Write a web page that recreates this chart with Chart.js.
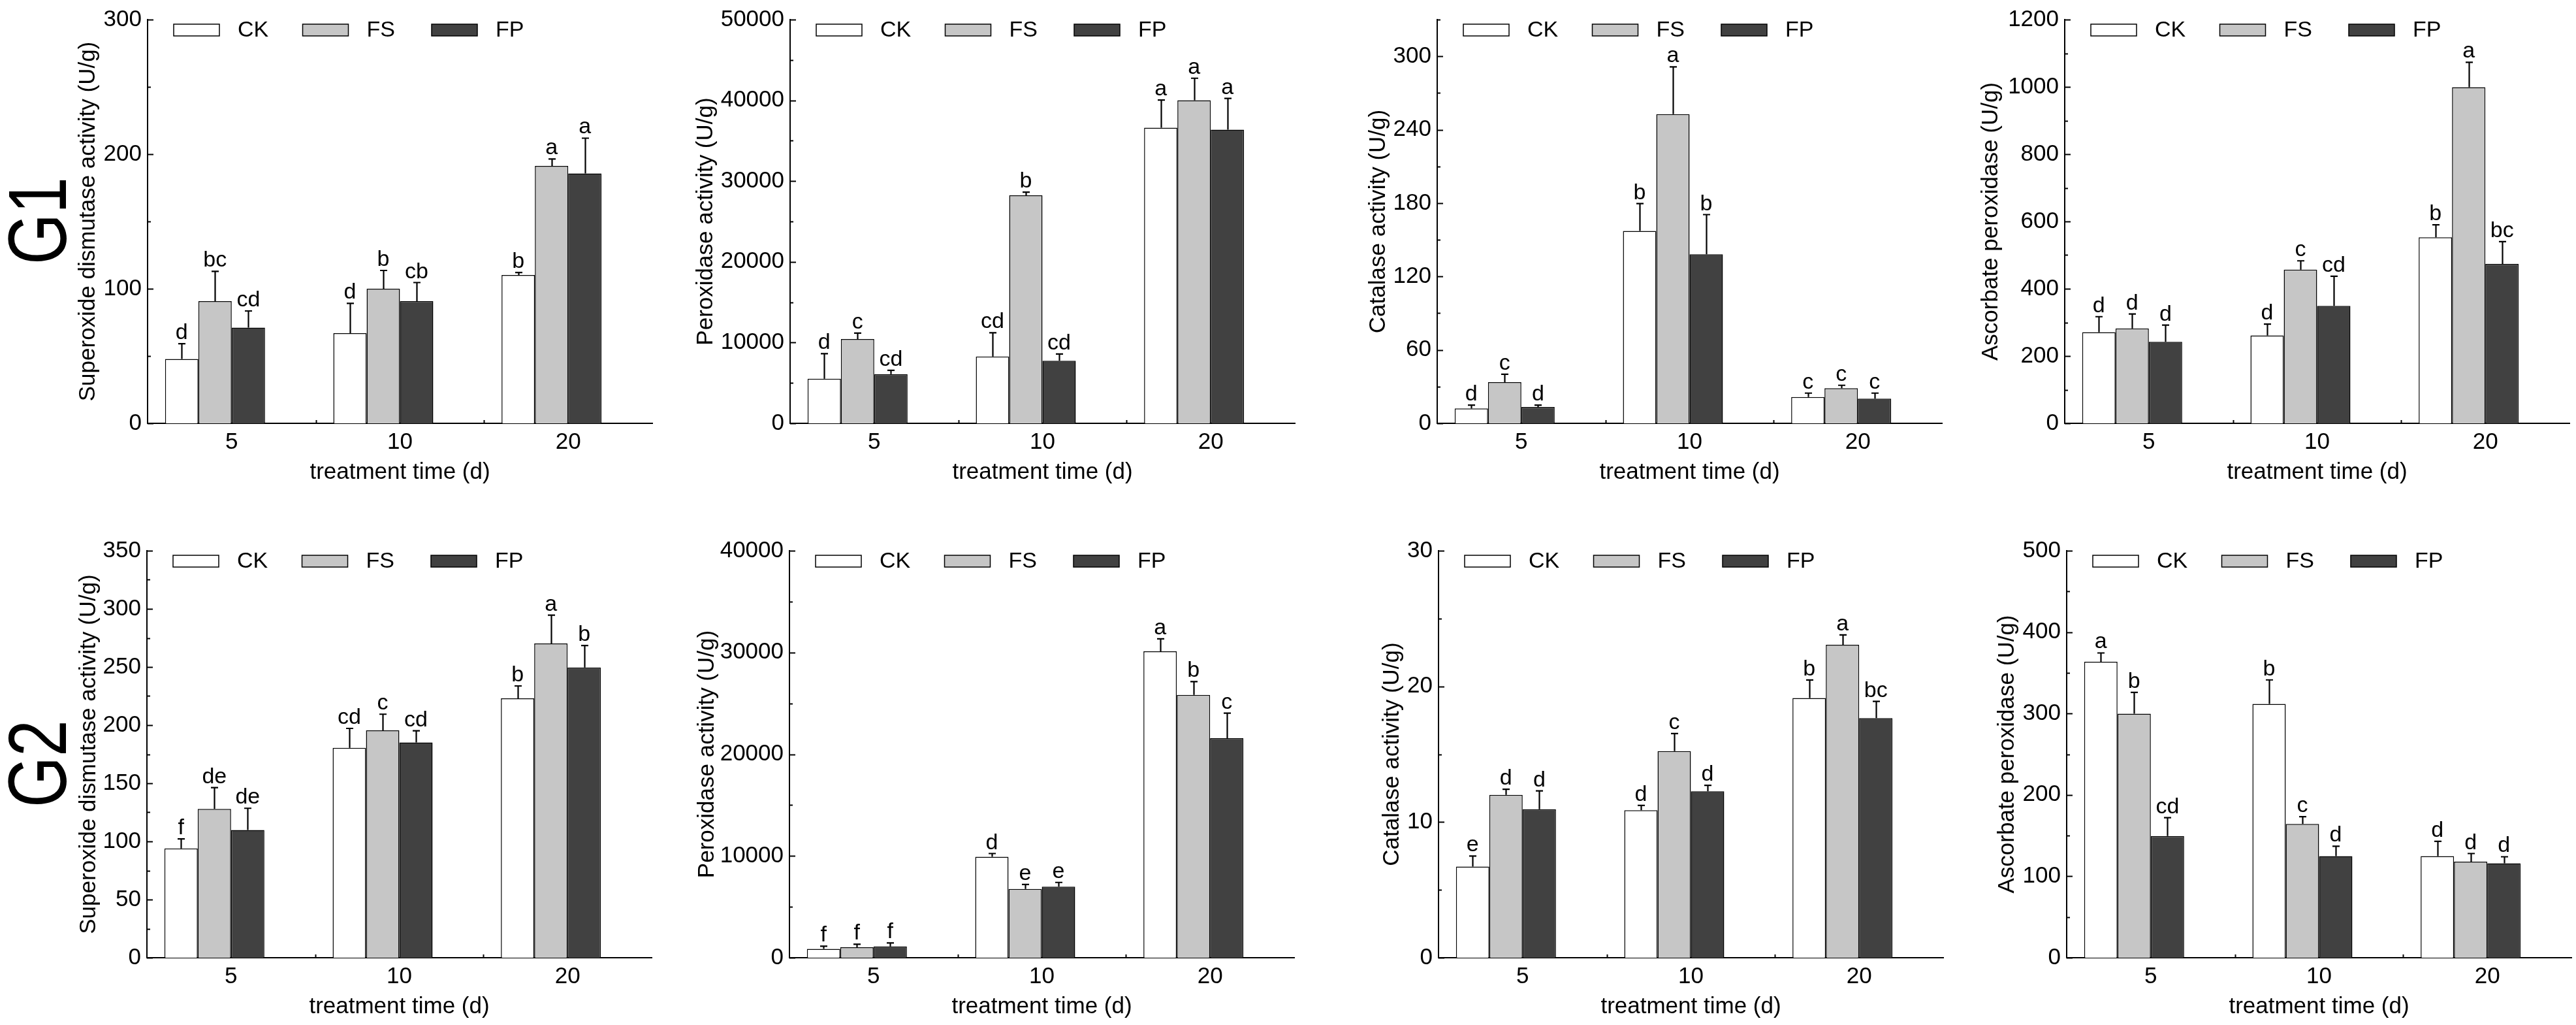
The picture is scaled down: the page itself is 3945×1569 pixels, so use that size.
<!DOCTYPE html>
<html lang="en">
<head>
    <meta charset="UTF-8">
    <title>Antioxidant enzyme activity G1 / G2</title>
    <script src="https://cdn.jsdelivr.net/npm/chart.js"></script>
    <style>
        body {
            margin: 0;
            width: 3945px;
            height: 1569px;
            background: #ffffff;
            position: relative;
            overflow: hidden;
            font-family: "Liberation Sans", Arial, sans-serif;
        }
        .panel {
            position: absolute;
        }
        .group-label {
            position: absolute;
            font-size: 127px;
            line-height: 1;
            color: #000;
            white-space: nowrap;
            transform: translate(-50%, -50%) rotate(-90deg) scaleX(0.79);
        }
    </style>
</head>
<body>
    <div class="group-label" style="left:57px; top:338px;">G1</div>
    <div class="group-label" style="left:57px; top:1169px;">G2</div>

    <script>
        // categories and series
        const days = ['5', '10', '20'];
        const treatments = ['CK', 'FS', 'FP'];

        // each panel: [CK, FS, FP] x [5 d, 10 d, 20 d]
        const g1SodMean = [[47.8, 67.0, 110.2], [90.8, 100.0, 191.3], [71.1, 90.8, 185.7]];
        const g1SodErr = [[11.4, 22.1, 1.9], [22.1, 13.6, 5.1], [12.4, 13.8, 26.2]];
        const g1SodSig = [['d', 'd', 'b'], ['bc', 'b', 'a'], ['cd', 'cb', 'a']];

        const g1PodMean = [[5520, 8270, 36610], [10440, 28230, 40000], [6090, 7740, 36370]];
        const g1PodErr = [[3110, 2940, 3430], [730, 400, 2740], [480, 850, 3870]];
        const g1PodSig = [['d', 'cd', 'a'], ['c', 'b', 'a'], ['cd', 'cd', 'a']];

        const g1CatMean = [[12.2, 157.3, 21.5], [33.7, 252.7, 28.7], [13.3, 138.2, 20.2]];
        const g1CatErr = [[2.7, 22.3, 3.2], [6.4, 38.6, 2.4], [1.6, 32.4, 4.5]];
        const g1CatSig = [['d', 'b', 'c'], ['c', 'a', 'c'], ['d', 'b', 'c']];

        const g1ApxMean = [[271, 261, 553], [282, 457, 999], [242, 349, 474]];
        const g1ApxErr = [[46, 34, 37], [43, 26, 74], [50, 88, 66]];
        const g1ApxSig = [['d', 'd', 'b'], ['d', 'c', 'a'], ['d', 'cd', 'bc']];

        const g2SodMean = [[93.9, 180.5, 223.0], [127.9, 195.5, 270.2], [109.8, 185.1, 249.6]];
        const g2SodErr = [[8.3, 16.7, 10.7], [18.4, 13.9, 24.4], [18.7, 10.1, 18.9]];
        const g2SodSig = [['f', 'cd', 'b'], ['de', 'c', 'a'], ['de', 'cd', 'b']];

        const g2PodMean = [[870, 9920, 30110], [1030, 6750, 25820], [1100, 6980, 21580]];
        const g2PodErr = [[260, 320, 1230], [290, 450, 1320], [350, 420, 2460]];
        const g2PodSig = [['f', 'd', 'a'], ['f', 'e', 'b'], ['f', 'e', 'c']];

        const g2CatMean = [[6.72, 10.87, 19.14], [12.0, 15.23, 23.07], [10.94, 12.27, 17.66]];
        const g2CatErr = [[0.77, 0.36, 1.33], [0.42, 1.29, 0.72], [1.36, 0.44, 1.23]];
        const g2CatSig = [['e', 'd', 'b'], ['d', 'c', 'a'], ['d', 'd', 'bc']];

        const g2ApxMean = [[363.5, 311.8, 124.8], [299.7, 164.4, 117.9], [149.4, 124.8, 115.9]];
        const g2ApxErr = [[10.9, 29.5, 18.2], [26.2, 8.9, 10.1], [22.7, 12.1, 8.1]];
        const g2ApxSig = [['a', 'b', 'd'], ['b', 'c', 'd'], ['cd', 'd', 'd']];

        // y axes (max, major step, minor step) and titles
        const yMax = [300, 50000, 330, 1200, 350, 40000, 30, 500];
        const yStep = [100, 10000, 60, 200, 50, 10000, 10, 100];
        const yMinor = [50, 5000, 30, 100, 25, 5000, 5, 50];
        const yTitles = [
            'Superoxide dismutase activity (U/g)', 'Peroxidase activity (U/g)',
            'Catalase activity (U/g)', 'Ascorbate peroxidase (U/g)',
            'Superoxide dismutase activity (U/g)', 'Peroxidase activity (U/g)',
            'Catalase activity (U/g)', 'Ascorbate peroxidase (U/g)'
        ];
        const xTitle = 'treatment time (d)';

        const means = [g1SodMean, g1PodMean, g1CatMean, g1ApxMean, g2SodMean, g2PodMean, g2CatMean, g2ApxMean];
        const errs = [g1SodErr, g1PodErr, g1CatErr, g1ApxErr, g2SodErr, g2PodErr, g2CatErr, g2ApxErr];
        const sigs = [g1SodSig, g1PodSig, g1CatSig, g1ApxSig, g2SodSig, g2PodSig, g2CatSig, g2ApxSig];

        // look
        const fills = ['#ffffff', '#c6c6c6', '#414141'];
        const FONT = '"Liberation Sans", Arial, sans-serif';

        // page layout (x of the y axis, width of the y scale box)
        const axisX = [226, 1210, 2201, 3162, 225, 1209, 2203, 3165];
        const yBoxW = [112, 150, 111, 134, 110, 147, 92, 112];
        const rowTop = [0, 813];
        const rowPad = [24, 30];
        const rowPlotH = [624, 623];
        const plotW = 773;
        const xBoxH = 96;

        // error bars, letters, inward ticks and the legend inside the plot
        function makeDecor(k) {
            return {
                id: 'decor' + k,
                afterDatasetsDraw(chart) {
                    const ctx = chart.ctx;
                    const area = chart.chartArea;
                    const xs = chart.scales.x, ys = chart.scales.y;
                    ctx.save();
                    ctx.strokeStyle = '#000';
                    ctx.fillStyle = '#000';
                    ctx.lineWidth = 2;

                    // y ticks pointing into the plot
                    for (let n = 0; n * yMinor[k] <= yMax[k]; n++) {
                        const v = n * yMinor[k];
                        const major = (v % yStep[k]) === 0;
                        const py = Math.round(ys.getPixelForValue(v)) + 0.5;
                        ctx.beginPath();
                        ctx.moveTo(area.left, py);
                        ctx.lineTo(area.left + (major ? 9 : 5), py);
                        ctx.stroke();
                    }
                    // small x ticks between the day groups
                    for (let i = 1; i < days.length; i++) {
                        const px = Math.round((xs.getPixelForValue(i - 1) + xs.getPixelForValue(i)) / 2) + 0.5;
                        ctx.beginPath();
                        ctx.moveTo(px, area.bottom);
                        ctx.lineTo(px, area.bottom - 5);
                        ctx.stroke();
                    }

                    // error bars (upper only) and significance letters
                    ctx.font = '34px ' + FONT;
                    ctx.textAlign = 'center';
                    ctx.textBaseline = 'alphabetic';
                    for (let s = 0; s < treatments.length; s++) {
                        const meta = chart.getDatasetMeta(s);
                        meta.data.forEach((bar, j) => {
                            const cx = Math.round(bar.x) + 0.5;
                            const top = ys.getPixelForValue(means[k][s][j] + errs[k][s][j]);
                            ctx.lineWidth = 2.2;
                            ctx.beginPath();
                            ctx.moveTo(cx, bar.y);
                            ctx.lineTo(cx, top);
                            ctx.moveTo(cx - 5.5, top);
                            ctx.lineTo(cx + 5.5, top);
                            ctx.stroke();
                            ctx.fillText(sigs[k][s][j], bar.x, top - 7);
                        });
                    }

                    // legend
                    ctx.textAlign = 'left';
                    ctx.textBaseline = 'middle';
                    ctx.lineWidth = 1.5;
                    for (let s = 0; s < treatments.length; s++) {
                        const bx = area.left + 40 + s * 197.5;
                        const by = area.top + 7;
                        ctx.fillStyle = fills[s];
                        ctx.fillRect(bx, by, 70, 18);
                        ctx.strokeRect(bx, by, 70, 18);
                        ctx.fillStyle = '#000';
                        ctx.fillText(treatments[s], bx + 98, by + 10);
                    }
                    ctx.restore();
                }
            };
        }

        for (let k = 0; k < 8; k++) {
            const row = k < 4 ? 0 : 1;
            const w = yBoxW[k] + plotW + 12;
            const h = rowPad[row] + rowPlotH[row] + xBoxH;

            const div = document.createElement('div');
            div.className = 'panel';
            div.style.left = (axisX[k] - yBoxW[k]) + 'px';
            div.style.top = rowTop[row] + 'px';
            div.style.width = w + 'px';
            div.style.height = h + 'px';
            const canvas = document.createElement('canvas');
            canvas.width = w;
            canvas.height = h;
            div.appendChild(canvas);
            document.body.appendChild(div);

            const datasets = treatments.map((t, s) => ({
                label: t,
                data: means[k][s],
                backgroundColor: fills[s],
                borderColor: '#000',
                borderWidth: 1.5,
                borderSkipped: 'bottom'
            }));
            // empty slot so the day tick sits between FS and FP, like the original
            datasets.push({ label: '', data: [null, null, null] });

            new Chart(canvas.getContext('2d'), {
                type: 'bar',
                data: { labels: days, datasets: datasets },
                options: {
                    responsive: false,
                    animation: false,
                    devicePixelRatio: 1,
                    categoryPercentage: 0.792,
                    barPercentage: 1.0,
                    layout: { padding: { top: rowPad[row], right: 12, left: 0, bottom: 0 } },
                    plugins: {
                        legend: { display: false },
                        tooltip: { enabled: false }
                    },
                    scales: {
                        x: {
                            grid: { display: false, drawTicks: false },
                            border: { color: '#000', width: 2 },
                            ticks: { color: '#000', font: { family: FONT, size: 35 }, padding: 8 },
                            title: { display: true, text: xTitle, color: '#000', font: { family: FONT, size: 35 }, padding: 0 },
                            afterFit: (s) => { s.height = xBoxH; }
                        },
                        y: {
                            min: 0,
                            max: yMax[k],
                            grid: { display: false, drawTicks: false },
                            border: { color: '#000', width: 2 },
                            ticks: {
                                stepSize: yStep[k],
                                includeBounds: false,
                                color: '#000',
                                font: { family: FONT, size: 35 },
                                padding: 9,
                                callback: (v) => String(v)
                            },
                            title: { display: true, text: yTitles[k], color: '#000', font: { family: FONT, size: 35 }, padding: 0 },
                            afterFit: (s) => { s.width = yBoxW[k]; }
                        }
                    }
                },
                plugins: [makeDecor(k)]
            });
        }
    </script>
</body>
</html>
